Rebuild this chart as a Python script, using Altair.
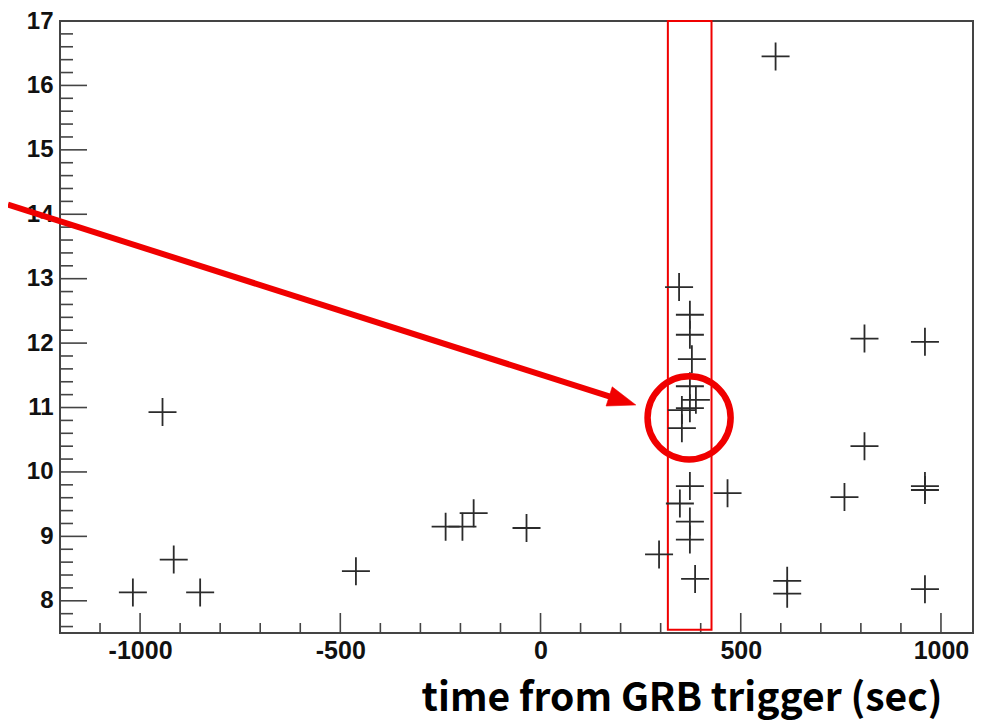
import altair as alt
import pandas as pd

# ---- data ----
event_time = [-1018, -944, -916, -850, -461, -237, -195, -167, -35, 296,
              346, 373, 373, 378, 373, 388, 353, 373, 353, 373,
              348, 373, 373, 386, 467, 587, 616, 616, 759, 809,
              809, 960, 960, 960, 960]
event_value = [8.13, 10.93, 8.64, 8.13, 8.46, 9.15, 9.15, 9.36, 9.13, 8.72,
               12.87, 12.44, 12.13, 11.75, 11.33, 11.12, 10.96, 10.99, 10.68, 9.78,
               9.51, 9.23, 8.95, 8.34, 9.67, 16.45, 8.31, 8.11, 9.61, 12.07,
               10.40, 12.02, 9.78, 9.72, 8.18]

x_major = [-1000, -500, 0, 500, 1000]
x_minor = [v for v in range(-1100, 1001, 100) if v not in x_major]
y_major = [8, 9, 10, 11, 12, 13, 14, 15, 16]
y_labels = y_major + [17]
y_minor = [round(7.6 + 0.2 * i, 1) for i in range(47)]
y_minor = [v for v in y_minor if abs(v - round(v)) > 1e-6 and v < 17]

box_x = [318]
box_x2 = [427]
box_y = [7.55]
box_y2 = [17.0]

circle_x = [371]
circle_y = [10.84]

arrow_start_x = [-1330]
arrow_start_y = [14.15]
arrow_end_x = [203]
arrow_end_y = [11.11]
arrow_tip_x = [238]
arrow_tip_y = [11.04]

X_DOMAIN = [-1200, 1080]
Y_DOMAIN = [7.5, 17]
W, H = 913, 612

xs = alt.Scale(domain=X_DOMAIN, nice=False, zero=False)
ys = alt.Scale(domain=Y_DOMAIN, nice=False, zero=False)

pts = pd.DataFrame({"t": event_time, "v": event_value})

base_axis_x = alt.Axis(
    values=x_major, ticks=False, domain=False, grid=False,
    labelExpr="'' + datum.value",
    labelFont="Liberation Sans", labelFontWeight="bold", labelFontSize=25,
    labelColor="#111", labelPadding=5,
    title="time from GRB trigger (sec)", titleFont="Noto Sans CJK JP",
    titleFontWeight="bold", titleFontSize=39, titleColor="#000",
    titleAnchor="end", titleAlign="right", titleBaseline="alphabetic",
    titleX=882, titleY=77,
)
base_axis_y = alt.Axis(
    values=y_labels, ticks=False, domain=False, grid=False,
    labelExpr="'' + datum.value",
    labelFont="Liberation Sans", labelFontWeight="bold", labelFontSize=24,
    labelColor="#111", labelPadding=7, title=None,
)

cross_path = "M-1,0L1,0M0,-1L0,1"
points = alt.Chart(pts).mark_point(
    shape=cross_path, size=784, filled=False, stroke="#2b2b2b",
    strokeWidth=1.8, opacity=1
).encode(
    x=alt.X("t:Q", scale=xs, axis=base_axis_x),
    y=alt.Y("v:Q", scale=ys, axis=base_axis_y),
)

# axis ticks drawn inward (ROOT style)
ymaj = alt.Chart(pd.DataFrame({"v": y_major})).mark_rule(color="#444", strokeWidth=1.6).encode(
    y=alt.Y("v:Q", scale=ys), x=alt.value(0), x2=alt.value(27))
ymin = alt.Chart(pd.DataFrame({"v": y_minor})).mark_rule(color="#444", strokeWidth=1.6).encode(
    y=alt.Y("v:Q", scale=ys), x=alt.value(0), x2=alt.value(13))
xmaj = alt.Chart(pd.DataFrame({"t": x_major})).mark_rule(color="#444", strokeWidth=1.6).encode(
    x=alt.X("t:Q", scale=xs), y=alt.value(H), y2=alt.value(H - 20))
xmin = alt.Chart(pd.DataFrame({"t": x_minor})).mark_rule(color="#444", strokeWidth=1.6).encode(
    x=alt.X("t:Q", scale=xs), y=alt.value(H), y2=alt.value(H - 10))

box = alt.Chart(pd.DataFrame({"x": box_x, "x2": box_x2, "y": box_y, "y2": box_y2})).mark_rect(
    fill=None, filled=False, stroke="#f00000", strokeWidth=2
).encode(
    x=alt.X("x:Q", scale=xs), x2="x2:Q", y=alt.Y("y:Q", scale=ys), y2="y2:Q")

circle = alt.Chart(pd.DataFrame({"x": circle_x, "y": circle_y})).mark_point(
    shape="circle", size=6900, filled=False, stroke="#f00000", strokeWidth=6.5, opacity=1
).encode(x=alt.X("x:Q", scale=xs), y=alt.Y("y:Q", scale=ys))

arrow_line = alt.Chart(pd.DataFrame({
    "x": arrow_start_x, "y": arrow_start_y, "x2": arrow_end_x, "y2": arrow_end_y
})).mark_rule(color="#f00000", strokeWidth=6).encode(
    x=alt.X("x:Q", scale=xs), y=alt.Y("y:Q", scale=ys), x2="x2:Q", y2="y2:Q")

arrow_head = alt.Chart(pd.DataFrame({"x": arrow_tip_x, "y": arrow_tip_y})).mark_point(
    shape="M0,0L-2,-0.72L-2,0.72Z", size=784, filled=True, fill="#f00000",
    stroke="#f00000", strokeWidth=0.5, angle=17.7, opacity=1
).encode(x=alt.X("x:Q", scale=xs), y=alt.Y("y:Q", scale=ys))

chart = alt.layer(
    ymin, ymaj, xmin, xmaj, box, points, circle, arrow_line, arrow_head
).properties(
    width=W, height=H,
    autosize=alt.AutoSizeParams(type="none"),
    padding={"left": 52, "top": 13, "right": 6, "bottom": 88},
    background="white",
).configure_view(
    stroke="#444", strokeWidth=2
)

chart.save("out.html", embed_options={"renderer": "svg", "actions": False})
